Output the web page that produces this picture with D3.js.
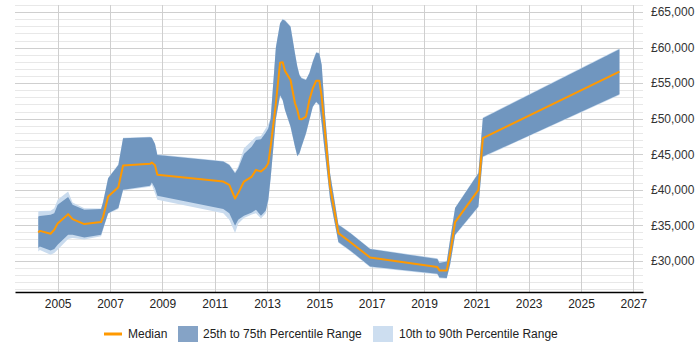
<!DOCTYPE html>
<html>
<head>
<meta charset="utf-8">
<script src="https://cdn.jsdelivr.net/npm/d3@7/dist/d3.min.js"></script>
<style>
  html, body { margin: 0; padding: 0; background: #fff; }
  svg { display: block; font-family: "Liberation Sans", Arial, sans-serif; }
</style>
</head>
<body>
<svg id="chart" width="700" height="350"></svg>
<script>
// Decimal-year sample times
const years = [2004.26, 2004.32, 2004.73, 2004.87, 2005.0, 2005.4, 2005.57, 2006.02, 2006.66, 2006.74,
  2006.93, 2007.32, 2007.5, 2008.53, 2008.6, 2008.72, 2008.81, 2011.33, 2011.56, 2011.78,
  2011.9, 2012.12, 2012.42, 2012.58, 2012.77, 2012.95, 2013.05, 2013.14, 2013.34, 2013.5,
  2013.6, 2013.69, 2013.9, 2014.07, 2014.16, 2014.24, 2014.32, 2014.49, 2014.62, 2014.75,
  2014.88, 2015.0, 2015.09, 2015.22, 2015.41, 2015.73, 2016.18, 2016.94, 2019.51, 2019.59,
  2019.87, 2020.0, 2020.19, 2021.08, 2021.25, 2026.47];

const median = [33980, 34200, 33800, 34360, 35240, 36560, 35860, 35160, 35440, 36220,
  39040, 40360, 43400, 43640, 43820, 43450, 42090, 41150, 40680, 38760,
  39520, 41150, 41850, 42790, 42550, 43120, 43730, 46070, 52170, 57870,
  57930, 56710, 55440, 52170, 51220, 49960, 49910, 50280, 52630, 54270,
  55340, 55340, 53090, 48000, 40450, 33890, 32630, 30460, 29110, 28640,
  28640, 31080, 35440, 39980, 47250, 56610];

const p25 = [31780, 32000, 31450, 31640, 32250, 33650, 33650, 33280, 33650, 34590,
  36700, 37410, 39980, 40540, 41010, 40200, 39140, 37270, 36700, 34920,
  35760, 36320, 36800, 37170, 36320, 37030, 38570, 41700, 50000, 53300,
  52630, 51220, 48880, 46070, 44760, 45140, 46070, 47950, 49820, 51690,
  52390, 51930, 49350, 45000, 38710, 32630, 31450, 29200, 28170, 27650,
  27560, 29500, 33650, 37630, 44660, 53430];

const p75 = [36220, 36300, 36460, 36700, 37870, 38960, 37870, 37170, 37270, 38300,
  41620, 43490, 47250, 47390, 47300, 46440, 44900, 43960, 43490, 42330,
  43030, 45040, 46070, 47010, 47110, 48000, 48650, 50000, 60000, 63400,
  63970, 63780, 62940, 59190, 57320, 56140, 55680, 55440, 56380, 58020,
  59280, 59190, 57550, 50500, 42330, 35060, 33890, 31640, 30240, 29670,
  29900, 33000, 37410, 42330, 50060, 59760];

const p10 = [31310, 31500, 30840, 31100, 31550, 33050, 33200, 33000, 33450, 34400,
  36600, 37300, 39900, 40400, 40700, 39500, 38570, 36700, 35760, 33890,
  35200, 36000, 36500, 36700, 35950, 36700, 38300, 41500, 49900, 53200,
  52530, 51120, 48780, 45970, 44660, 45040, 45970, 47850, 49720, 51590,
  52290, 51830, 49250, 44900, 38610, 32530, 31350, 29100, 28070, 27550,
  27460, 29400, 33550, 37530, 44560, 53330];

const p90 = [36930, 37000, 37030, 37400, 38570, 39740, 38200, 37400, 37350, 38400,
  41700, 43600, 47300, 47450, 47350, 46500, 45000, 44050, 43600, 42500,
  43300, 45840, 46900, 47470, 47570, 48600, 49200, 50100, 60100, 63500,
  64070, 63880, 63040, 59290, 57420, 56240, 55780, 55540, 56480, 58120,
  59380, 59290, 57650, 50600, 42430, 35160, 33990, 31740, 30340, 29900,
  30000, 33100, 37510, 42430, 50160, 59860];

const xTicks = [2005, 2007, 2009, 2011, 2013, 2015, 2017, 2019, 2021, 2023, 2025, 2027];
const yTicks = [30000, 35000, 40000, 45000, 50000, 55000, 60000, 65000];
const legendLabels = ["Median", "25th to 75th Percentile Range", "10th to 90th Percentile Range"];

const rows = years.map((t, i) => ({t, med: median[i], p25: p25[i], p75: p75[i], p10: p10[i], p90: p90[i]}));

const svg = d3.select("#chart");
const mLeft = 15, mRight = 643, mTop = 5, mBottom = 292;

const x = d3.scaleLinear().domain([2003.37, 2027.37]).range([mLeft, mRight]);
const y = d3.scaleLinear().domain([25600, 66000]).range([mBottom, mTop]);

const grid = svg.append("g");
const minor = d3.range(26000, 66001, 1000).filter(v => v % 5000 !== 0);
grid.selectAll("line.minor").data(minor).enter().append("line")
  .attr("x1", mLeft).attr("x2", mRight)
  .attr("y1", d => Math.round(y(d)) + 0.5).attr("y2", d => Math.round(y(d)) + 0.5)
  .attr("stroke", "#e8e8e8").attr("stroke-width", 1);
grid.selectAll("line.major").data(yTicks).enter().append("line")
  .attr("x1", mLeft).attr("x2", mRight)
  .attr("y1", d => Math.round(y(d)) + 0.5).attr("y2", d => Math.round(y(d)) + 0.5)
  .attr("stroke", "#cfcfcf").attr("stroke-width", 1);
grid.selectAll("line.v").data(xTicks).enter().append("line")
  .attr("x1", d => Math.round(x(d)) + 0.5).attr("x2", d => Math.round(x(d)) + 0.5)
  .attr("y1", mTop).attr("y2", mBottom)
  .attr("stroke", "#cfcfcf").attr("stroke-width", 1);

const area = (lo, hi) => d3.area().x(d => x(d.t)).y0(d => y(d[lo])).y1(d => y(d[hi]));

svg.append("path").datum(rows).attr("d", area("p10", "p90")).attr("fill", "#c9dbee");
svg.append("path").datum(rows).attr("d", area("p25", "p75")).attr("fill", "#7096bf");

svg.append("path").datum(rows)
  .attr("d", d3.line().x(d => x(d.t)).y(d => y(d.med)))
  .attr("fill", "none").attr("stroke", "#ff9900").attr("stroke-width", 2).attr("stroke-linejoin", "round");

const xAxis = d3.axisBottom(x).tickValues(xTicks).tickFormat(d3.format("d")).tickSize(0).tickPadding(7);
const gx = svg.append("g").attr("transform", `translate(0,${mBottom})`).call(xAxis);
gx.select(".domain").attr("stroke", "#000").attr("stroke-width", 1.5);
gx.selectAll("text").attr("font-size", 12).attr("fill", "#222").attr("font-family", "Liberation Sans, Arial, sans-serif");

const yAxis = d3.axisRight(y).tickValues(yTicks).tickFormat(d => "£" + d3.format(",")(d)).tickSize(0).tickPadding(8);
const gy = svg.append("g").attr("transform", `translate(${mRight},0)`).call(yAxis);
gy.select(".domain").remove();
gy.selectAll("text").attr("font-size", 12).attr("fill", "#333").attr("font-family", "Liberation Sans, Arial, sans-serif");

const lg = svg.append("g").attr("font-size", 12).attr("fill", "#222");
const ly = 334;
lg.append("line").attr("x1", 104).attr("x2", 122).attr("y1", ly).attr("y2", ly)
  .attr("stroke", "#ff9900").attr("stroke-width", 3);
lg.append("text").attr("x", 128).attr("y", ly).attr("dy", "0.35em").text(legendLabels[0]);
lg.append("rect").attr("x", 178).attr("y", ly - 8).attr("width", 20).attr("height", 16).attr("fill", "#85a3c6");
lg.append("text").attr("x", 203).attr("y", ly).attr("dy", "0.35em").text(legendLabels[1]);
lg.append("rect").attr("x", 373).attr("y", ly - 8).attr("width", 20).attr("height", 16).attr("fill", "#cddef0");
lg.append("text").attr("x", 399).attr("y", ly).attr("dy", "0.35em").text(legendLabels[2]);
</script>
</body>
</html>
